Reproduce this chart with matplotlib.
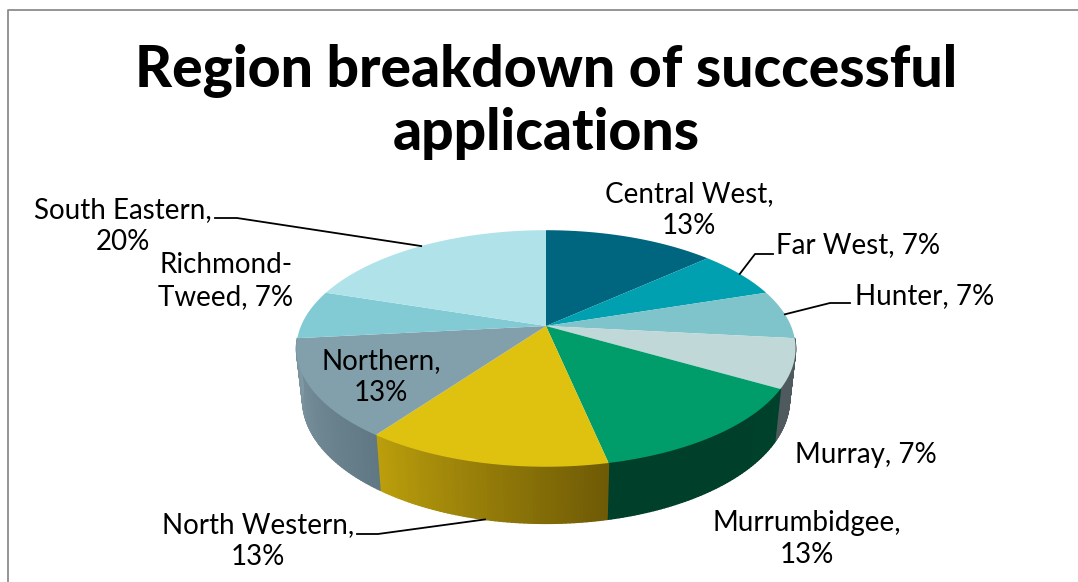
import numpy as np
import matplotlib
matplotlib.use("Agg")
import matplotlib.pyplot as plt
from matplotlib.collections import PolyCollection
from matplotlib.colors import to_rgb

regions = ["Central West", "Far West", "Hunter", "Murray", "Murrumbidgee",
           "North Western", "Northern", "Richmond-\nTweed", "South Eastern"]
applications = [2, 1, 1, 1, 2, 2, 2, 1, 3]
top_colors = ["#00667F", "#00A0B0", "#7FC3CB", "#C0D8D8", "#009C6A",
              "#DFC10F", "#82A0AC", "#82CBD5", "#B0E2E9"]
# wall colour at the left and right of each slice
wall_left = ["#00667F", "#00A0B0", "#7FC3CB", "#4E5A5E", "#003F2A",
             "#BC9F0C", "#7F98A3", "#82CBD5", "#B0E2E9"]
wall_right = ["#00667F", "#00A0B0", "#7FC3CB", "#4E5A5E", "#00412C",
              "#6E5A06", "#5F7883", "#82CBD5", "#B0E2E9"]

title = "Region breakdown of successful\napplications"

# label text centre x, y in pixels
label_pos = [(689, 210), (858, 245), (925, 296), (866, 455), (807, 539),
             (258, 541), (381, 377), (226, 281), (123, 226)]
label_break = [True, False, False, False, True, True, True, False, True]
# leader elbows in pixels, None when the slice has no leader
leader_elbow = [None, ((773, 254), (755, 254)), ((850, 303), (830, 303)), None, None,
                ((357, 534), (378, 534)), None, None, ((215, 218), (237, 218))]
leader_lower = [False, False, False, False, False, True, False, False, False]

font = "Lato"
W, H = 1078, 582
CX = 546
TOP = dict(cy=326, a=245, b=114)
LOW = dict(cy=376, a=239, b=119.4)
K = 0.19
WALL_FROM, WALL_TO = 96, 264


def project(deg, plane):
    t = np.radians(deg)
    x, y = np.sin(t), np.cos(t)
    w = 1 + K * y
    return CX + plane["a"] * x / w, plane["cy"] - plane["b"] * y / w


fig = plt.figure(figsize=(W / 100, H / 100), dpi=100)
ax = fig.add_axes([0, 0, 1, 1])
ax.set_xlim(0, W)
ax.set_ylim(H, 0)
ax.axis("off")

# chart frame, cropped on the right and at the bottom
ax.plot([7.5, 7.5, W], [H, 10, 10], color="#8C8C8C", lw=1.3)

total = sum(applications)
edges = np.concatenate([[0], np.cumsum(applications)]) / total * 360

# side wall first, in thin strips so the shading can run across
for i in range(len(regions)):
    start = max(edges[i], WALL_FROM)
    stop = min(edges[i + 1], WALL_TO)
    if stop <= start:
        continue
    steps = np.linspace(start, stop, 60)
    polys = []
    cols = []
    c0 = np.array(to_rgb(wall_left[i]))
    c1 = np.array(to_rgb(wall_right[i]))
    for s0, s1 in zip(steps[:-1], steps[1:]):
        polys.append([project(s0, TOP), project(s1, TOP), project(s1, LOW), project(s0, LOW)])
        f = ((s0 + s1) / 2 - start) / (stop - start)
        cols.append(c1 + (c0 - c1) * f)
    ax.add_collection(PolyCollection(polys, facecolors=cols, edgecolors=cols, linewidths=1.0, zorder=2))

# top face
for i in range(len(regions)):
    arc = np.linspace(edges[i], edges[i + 1], 80)
    xs, ys = project(arc, TOP)
    ax.fill(np.r_[CX, xs], np.r_[TOP["cy"], ys], color=top_colors[i], lw=0, zorder=3)

# leaders
for i in range(len(regions)):
    if leader_elbow[i] is None:
        continue
    mid = (edges[i] + edges[i + 1]) / 2
    end = project(mid, LOW if leader_lower[i] else TOP)
    px = [leader_elbow[i][0][0], leader_elbow[i][1][0], end[0]]
    py = [leader_elbow[i][0][1], leader_elbow[i][1][1], end[1]]
    ax.plot(px, py, color="black", lw=1.3, zorder=4)

# labels
for i in range(len(regions)):
    pct = f"{round(100 * applications[i] / total)}%"
    sep = ",\n" if label_break[i] else ", "
    ax.text(label_pos[i][0], label_pos[i][1], regions[i] + sep + pct, ha="center", va="center",
            family=font, fontsize=20, color="black", linespacing=1.25, zorder=5)

ax.text(546, 102, title, ha="center", va="center", family=font, fontweight="black",
        fontsize=41, color="black", linespacing=1.2)

fig.savefig("out.png", dpi=100)
